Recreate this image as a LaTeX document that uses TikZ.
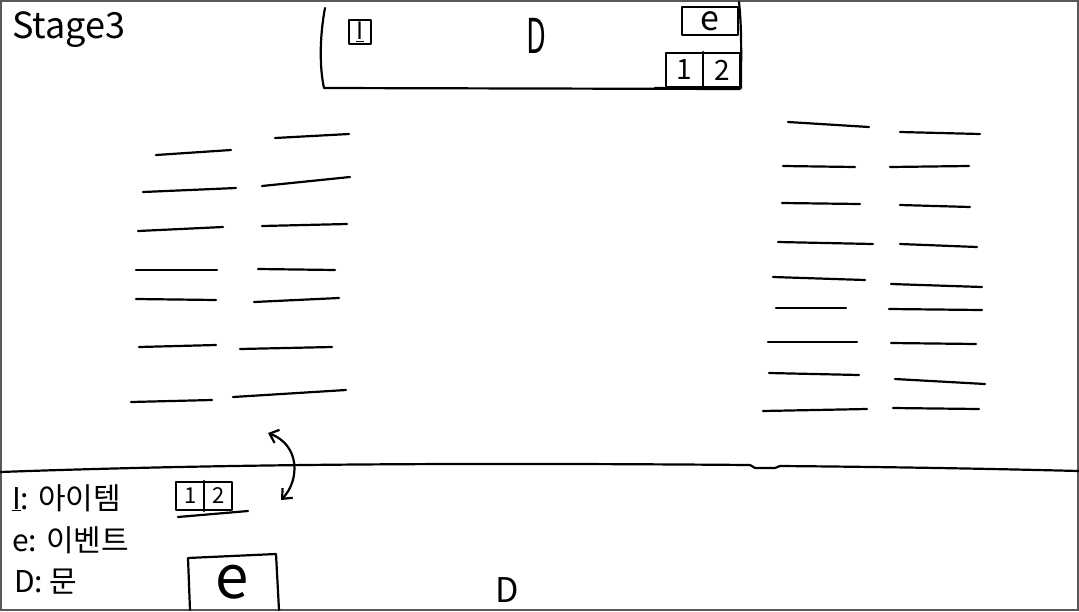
\documentclass[tikz,border=0pt]{standalone}
\usepackage{fontspec}
\setmainfont{Noto Sans CJK KR}
\newfontfamily\krfont{Noto Sans CJK KR}
\usetikzlibrary{arrows.meta}
\tikzset{
  pen/.style={line width=2.2pt, line cap=round, line join=round, black},
  row/.style={pen},
  lbl/.style={inner sep=0pt, anchor=center, font=\krfont},
}
\begin{document}
\begin{tikzpicture}[x=1pt,y=-1pt]
\useasboundingbox (0,0) rectangle (1079,611);
\fill[white] (0,0) rectangle (1079,611);
\draw[line width=2.5pt, gray!70!black] (1,1) rectangle (1078,610);

% title
\node[lbl, anchor=west, font=\fontsize{36}{36}\selectfont\krfont] (title) at (12,30) {Stage3};

% top box
\draw[pen] (325,8) .. controls (319,40) and (320,70) .. (324,88) -- (740,89);
\draw[pen] (739,2) .. controls (742,30) and (741,60) .. (741,88);
\node[lbl, draw, pen, minimum width=22pt, minimum height=24pt, font=\fontsize{24}{24}\selectfont\krfont] (itop) at (360,32) {\underline{I}};
\node[lbl, font=\fontsize{48}{48}\selectfont\krfont, xscale=0.6] (dtop) at (536,36) {D};
\node[lbl, draw, pen, minimum width=56pt, minimum height=28pt, font=\fontsize{34}{34}\selectfont\krfont] (etop) at (710,21) {e};
\node[lbl, draw, pen, minimum width=74pt, minimum height=34pt] (slot) at (703,70) {};
\draw[pen] (slot.north) -- (slot.south);
\node[lbl, font=\fontsize{28}{28}\selectfont\krfont] (s1) at (684,70) {1};
\node[lbl, font=\fontsize{28}{28}\selectfont\krfont] (s2) at (722,70) {2};
\draw[pen] (655,88) -- (slot.south west);

% left columns
\draw[row] (156,155) -- (231,150);
\draw[row] (143,192) -- (236,188);
\draw[row] (138,231) -- (223,227);
\draw[row] (136,270) -- (217,270);
\draw[row] (136,299) -- (216,300);
\draw[row] (139,347) -- (216,345);
\draw[row] (131,402) -- (212,400);

\draw[row] (275,138) -- (349,134);
\draw[row] (262,186) -- (350,177);
\draw[row] (262,226) -- (347,224);
\draw[row] (258,269) -- (335,270);
\draw[row] (254,302) -- (339,298);
\draw[row] (240,349) -- (332,347);
\draw[row] (233,397) -- (346,390);

% right columns
\draw[row] (788,122) -- (869,127);
\draw[row] (783,166) -- (855,167);
\draw[row] (782,203) -- (860,204);
\draw[row] (778,242) -- (873,244);
\draw[row] (773,277) -- (865,280);
\draw[row] (776,308) -- (846,308);
\draw[row] (768,342) -- (857,342);
\draw[row] (769,373) -- (859,375);
\draw[row] (763,411) -- (867,409);

\draw[row] (900,132) -- (980,134);
\draw[row] (890,167) -- (969,166);
\draw[row] (900,205) -- (970,207);
\draw[row] (900,244) -- (977,247);
\draw[row] (891,284) -- (982,287);
\draw[row] (889,309) -- (982,310);
\draw[row] (891,343) -- (976,344);
\draw[row] (895,379) -- (985,384);
\draw[row] (893,408) -- (979,409);

% divider
\draw[pen] (0,472) .. controls (250,463) and (500,463) .. (750,465) -- (755,468) -- (775,468) -- (780,466) .. controls (900,467) and (1000,469) .. (1079,471);

% swap arrow
\coordinate (atop) at (268,433);
\coordinate (abot) at (281,500);
\draw[pen, {Straight Barb[length=8pt,width=14pt]}-{Straight Barb[length=8pt,width=14pt]}] (atop) .. controls (300,445) and (300,480) .. (abot);

% legend
\node[lbl, anchor=west, font=\fontsize{30}{30}\selectfont\krfont] (legI) at (12,498) {\underline{I}: 아이템};
\node[lbl, anchor=west, font=\fontsize{30}{30}\selectfont\krfont] (legE) at (12,540) {e: 이벤트};
\node[lbl, anchor=west, font=\fontsize{30}{30}\selectfont\krfont] (legD) at (14,582) {D: 문};

% bottom slot
\node[lbl, draw, pen, minimum width=56pt, minimum height=28pt] (bslot) at (204,496) {};
\draw[pen] (bslot.north) -- (bslot.south);
\node[lbl, font=\fontsize{22}{22}\selectfont\krfont] (b1) at (191,496) {1};
\node[lbl, font=\fontsize{22}{22}\selectfont\krfont] (b2) at (219,496) {2};
\draw[pen] (178,517) -- (248,511);

% bottom event box
\draw[pen] (190,610) -- (188,558) -- (276,554) -- (279,610);
\node[lbl, font=\fontsize{60}{60}\selectfont\krfont] (ebot) at (232,582) {e};

\node[lbl, font=\fontsize{34}{34}\selectfont\krfont] (dbot) at (507,590) {D};
\end{tikzpicture}
\end{document}
